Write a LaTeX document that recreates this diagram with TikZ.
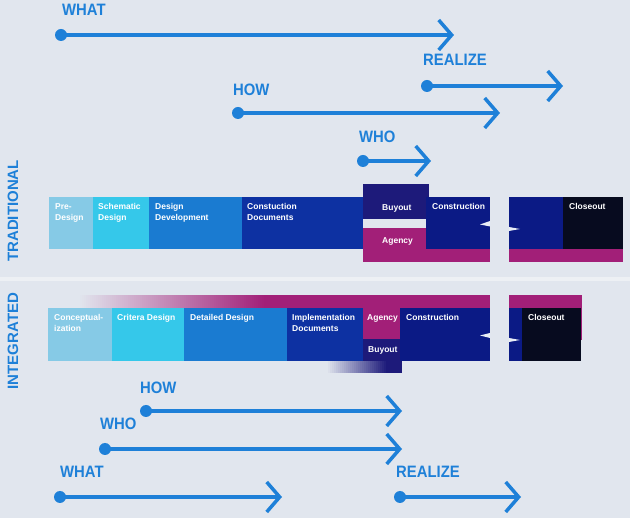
\documentclass[tikz,border=0pt]{standalone}
\usepackage{fontspec}
\setmainfont{Liberation Sans}
\newfontfamily\narrowsans[FakeStretch=0.9]{Liberation Sans}
\usetikzlibrary{arrows.meta}
\definecolor{bg}{HTML}{E1E6EE}
\definecolor{band}{HTML}{EDF0F4}
\definecolor{notch}{HTML}{E8EDF6}
\definecolor{lightblue}{HTML}{86CAE6}
\definecolor{cyanblue}{HTML}{35C8EA}
\definecolor{midblue}{HTML}{1A7BD1}
\definecolor{deepblue}{HTML}{0D31A2}
\definecolor{darkblue}{HTML}{0B1A85}
\definecolor{indigo}{HTML}{1D1A7A}
\definecolor{magent}{HTML}{A21F78}
\definecolor{nearblack}{HTML}{070B1F}
\definecolor{arrowblue}{HTML}{1E80D8}
\tikzset{
  boxtext/.style={font=\fontsize{8.5}{11}\selectfont\bfseries, text=white, anchor=north west, inner sep=0pt, align=left},
  arrowlabel/.style={font=\narrowsans\fontsize{16.5}{18}\selectfont\bfseries, text=arrowblue, anchor=base west, inner sep=0pt},
  sidelabel/.style={font=\fontsize{15}{16}\selectfont\bfseries, text=arrowblue, rotate=90, inner sep=0pt},
  dot/.style={circle, fill=arrowblue, minimum size=12pt, inner sep=0pt},
  timeline/.style={draw=arrowblue, line width=3.5pt, -{Straight Barb[length=13pt,width=30pt]}},
}
\begin{document}
\begin{tikzpicture}[x=1pt,y=-1pt]
\useasboundingbox (0,0) rectangle (630,518);
\fill[bg] (0,0) rectangle (630,518);
\fill[band] (0,277) rectangle (630,281);

% side labels
\node[sidelabel] (trad) at (13,211) {TRADITIONAL};
\node[sidelabel] (integ) at (13,341) {INTEGRATED};

% ---------- top arrows ----------
\node[arrowlabel] (whatT) at (62,16) {WHAT};
\node[dot] (whatTs) at (61,35) {};
\coordinate (whatTe) at (454,35);
\draw[timeline] (whatTs.center) -- (whatTe);

\node[arrowlabel] (realT) at (423,66) {REALIZE};
\node[dot] (realTs) at (427,86) {};
\coordinate (realTe) at (563,86);
\draw[timeline] (realTs.center) -- (realTe);

\node[arrowlabel] (howT) at (233,96) {HOW};
\node[dot] (howTs) at (238,113) {};
\coordinate (howTe) at (500,113);
\draw[timeline] (howTs.center) -- (howTe);

\node[arrowlabel] (whoT) at (359,143) {WHO};
\node[dot] (whoTs) at (363,161) {};
\coordinate (whoTe) at (431,161);
\draw[timeline] (whoTs.center) -- (whoTe);

% ---------- traditional bar ----------
\fill[lightblue] (49,197) rectangle (93,249);
\fill[cyanblue] (93,197) rectangle (149,249);
\fill[midblue] (149,197) rectangle (242,249);
\fill[deepblue] (242,197) rectangle (363,249);
\fill[indigo] (363,184) rectangle (429,219);
\fill[magent] (363,228) rectangle (426,249);
\fill[magent] (363,249) rectangle (490,262);
\fill[darkblue] (426,197) rectangle (490,249);
\fill[darkblue] (509,197) rectangle (563,249);
\fill[nearblack] (563,197) rectangle (623,249);
\fill[magent] (509,249) rectangle (623,262);
\fill[notch] (490,221) -- (480,224.5) -- (490,226.5) -- cycle;
\fill[notch] (509,227) -- (520,229) -- (509,231) -- cycle;

\node[boxtext] (t1) at (55,203) {Pre-\\Design};
\node[boxtext] (t2) at (98,203) {Schematic\\Design};
\node[boxtext] (t3) at (155,203) {Design\\Development};
\node[boxtext] (t4) at (247,203) {Constuction\\Documents};
\node[boxtext] (t5) at (382,204) {Buyout};
\node[boxtext] (t6) at (382,237) {Agency};
\node[boxtext] (t7) at (432,203) {Construction};
\node[boxtext] (t8) at (569,203) {Closeout};

% ---------- integrated bar ----------
\foreach \k in {0,...,93} {
  \pgfmathsetmacro\pct{100*\k/93}
  \fill[magent!\pct!bg] (78+2*\k,295) rectangle (80.6+2*\k,308);
}
\fill[magent] (264,295) rectangle (490,308);
\fill[magent] (509,295) rectangle (582,340);
\fill[lightblue] (48,308) rectangle (112,361);
\fill[cyanblue] (112,308) rectangle (184,361);
\fill[midblue] (184,308) rectangle (287,361);
\fill[deepblue] (287,308) rectangle (363,361);
\fill[magent] (363,308) rectangle (400,339);
\fill[indigo] (363,339) rectangle (402,361);
\foreach \k in {0,...,30} {
  \pgfmathsetmacro\pct{100*\k/30}
  \fill[indigo!\pct!bg] (326+2*\k,361) rectangle (328.6+2*\k,373);
}
\fill[indigo] (387,361) rectangle (402,373);
\fill[darkblue] (400,308) rectangle (490,361);
\fill[darkblue] (509,308) rectangle (522,361);
\fill[nearblack] (522,308) rectangle (581,361);
\fill[notch] (490,333) -- (480,335.5) -- (490,338) -- cycle;
\fill[notch] (509,338) -- (520,340) -- (509,342) -- cycle;

\node[boxtext] (i1) at (54,314) {Conceptual-\\ization};
\node[boxtext] (i2) at (117,314) {Critera Design};
\node[boxtext] (i3) at (190,314) {Detailed Design};
\node[boxtext] (i4) at (292,314) {Implementation\\Documents};
\node[boxtext] (i5) at (367,314) {Agency};
\node[boxtext] (i6) at (368,346) {Buyout};
\node[boxtext] (i7) at (406,314) {Construction};
\node[boxtext] (i8) at (528,314) {Closeout};

% ---------- bottom arrows ----------
\node[arrowlabel] (howB) at (140,394) {HOW};
\node[dot] (howBs) at (146,411) {};
\coordinate (howBe) at (402,411);
\draw[timeline] (howBs.center) -- (howBe);

\node[arrowlabel] (whoB) at (100,430) {WHO};
\node[dot] (whoBs) at (105,449) {};
\coordinate (whoBe) at (402,449);
\draw[timeline] (whoBs.center) -- (whoBe);

\node[arrowlabel] (whatB) at (60,478) {WHAT};
\node[dot] (whatBs) at (60,497) {};
\coordinate (whatBe) at (282,497);
\draw[timeline] (whatBs.center) -- (whatBe);

\node[arrowlabel] (realB) at (396,478) {REALIZE};
\node[dot] (realBs) at (400,497) {};
\coordinate (realBe) at (521,497);
\draw[timeline] (realBs.center) -- (realBe);
\end{tikzpicture}
\end{document}
